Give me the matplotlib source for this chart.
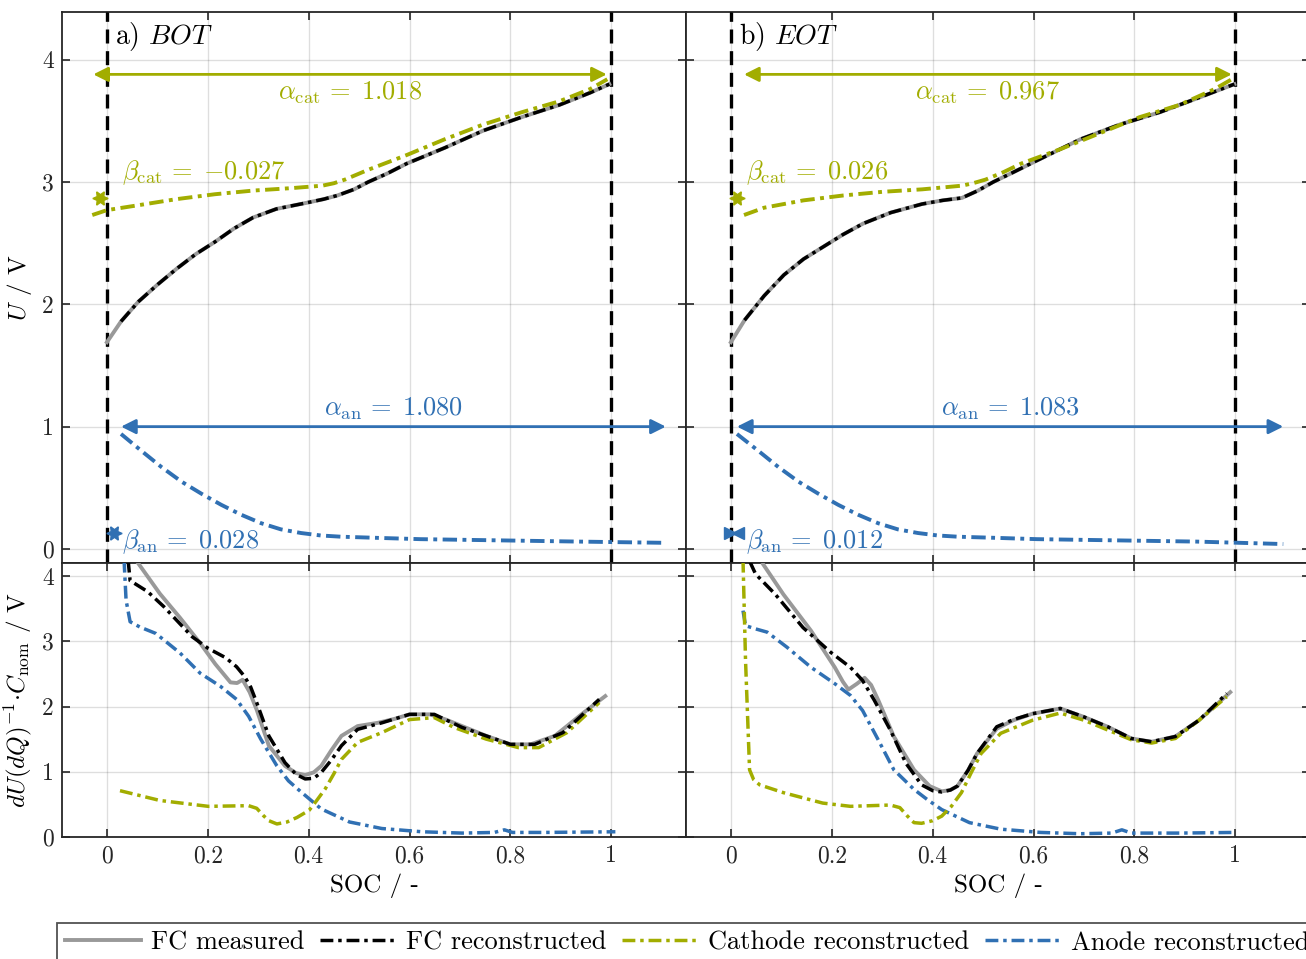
import numpy as np
import matplotlib
matplotlib.use("Agg")
import matplotlib.pyplot as plt
from matplotlib.lines import Line2D

plt.rcParams['font.family'] = 'serif'
plt.rcParams['font.serif'] = ['cmr10']
plt.rcParams['mathtext.fontset'] = 'cm'
plt.rcParams['axes.unicode_minus'] = False
plt.rcParams['axes.formatter.use_mathtext'] = True

# ---------------- data ----------------
panel_tags = ['a) $BOT$', 'b) $EOT$']
alpha_cat = [1.018, 0.967]
beta_cat = [-0.027, 0.026]
alpha_an = [1.080, 1.083]
beta_an = [0.028, 0.012]
xticks = [0, 0.2, 0.4, 0.6, 0.8, 1.0]
xticklabels = ['0', '0.2', '0.4', '0.6', '0.8', '1']
legend_labels = ['FC measured', 'FC reconstructed', 'Cathode reconstructed', 'Anode reconstructed']

# ---- BOT voltage ----
bot_fc_meas_x = [0.0, 0.028, 0.062, 0.10, 0.138, 0.176, 0.214, 0.252, 0.29, 0.336, 0.396, 0.43, 0.457, 0.49, 0.518, 0.556, 0.594, 0.67, 0.746, 0.822, 0.897, 0.958, 0.996]
bot_fc_meas_y = [1.69, 1.86, 2.02, 2.16, 2.29, 2.41, 2.51, 2.62, 2.71, 2.78, 2.83, 2.86, 2.89, 2.94, 3.00, 3.07, 3.15, 3.28, 3.42, 3.53, 3.63, 3.73, 3.80]
bot_fc_rec_x = [0.028, 0.062, 0.10, 0.138, 0.176, 0.214, 0.252, 0.29, 0.336, 0.396, 0.43, 0.457, 0.49, 0.518, 0.556, 0.594, 0.67, 0.746, 0.822, 0.897, 0.958, 0.996]
bot_fc_rec_y = [1.86, 2.02, 2.16, 2.29, 2.41, 2.51, 2.62, 2.71, 2.78, 2.83, 2.86, 2.89, 2.94, 3.00, 3.07, 3.15, 3.28, 3.42, 3.53, 3.63, 3.73, 3.80]
bot_cat_x = [-0.029, 0.0, 0.062, 0.138, 0.214, 0.29, 0.366, 0.427, 0.45, 0.472, 0.495, 0.518, 0.556, 0.594, 0.67, 0.746, 0.822, 0.897, 0.958, 0.992]
bot_cat_y = [2.73, 2.77, 2.81, 2.86, 2.90, 2.93, 2.95, 2.97, 2.99, 3.02, 3.06, 3.10, 3.16, 3.22, 3.35, 3.47, 3.57, 3.66, 3.76, 3.84]
bot_an_x = [0.028, 0.069, 0.108, 0.148, 0.188, 0.227, 0.266, 0.306, 0.345, 0.385, 0.424, 0.464, 0.54, 0.621, 0.779, 0.937, 1.106]
bot_an_y = [0.94, 0.80, 0.67, 0.55, 0.45, 0.36, 0.28, 0.21, 0.16, 0.13, 0.11, 0.10, 0.09, 0.08, 0.07, 0.06, 0.05]

# ---- EOT voltage ----
eot_fc_meas_x = [0.0, 0.027, 0.066, 0.105, 0.144, 0.183, 0.222, 0.262, 0.317, 0.379, 0.42, 0.458, 0.49, 0.52, 0.56, 0.599, 0.693, 0.771, 0.85, 0.928, 0.998]
eot_fc_meas_y = [1.69, 1.87, 2.07, 2.24, 2.37, 2.47, 2.57, 2.66, 2.75, 2.82, 2.85, 2.87, 2.93, 3.00, 3.08, 3.16, 3.35, 3.47, 3.57, 3.69, 3.80]
eot_fc_rec_x = [0.027, 0.066, 0.105, 0.144, 0.183, 0.222, 0.262, 0.317, 0.379, 0.42, 0.458, 0.49, 0.52, 0.56, 0.599, 0.693, 0.771, 0.85, 0.928, 0.998]
eot_fc_rec_y = [1.87, 2.07, 2.24, 2.37, 2.47, 2.57, 2.66, 2.75, 2.82, 2.85, 2.87, 2.93, 3.00, 3.08, 3.16, 3.35, 3.47, 3.57, 3.69, 3.80]
eot_cat_x = [0.026, 0.066, 0.144, 0.223, 0.301, 0.379, 0.458, 0.48, 0.505, 0.54, 0.575, 0.654, 0.732, 0.81, 0.889, 0.959, 0.993]
eot_cat_y = [2.73, 2.79, 2.85, 2.89, 2.92, 2.94, 2.97, 2.99, 3.02, 3.08, 3.15, 3.27, 3.40, 3.53, 3.63, 3.76, 3.84]
eot_an_x = [0.012, 0.055, 0.094, 0.134, 0.174, 0.213, 0.252, 0.292, 0.331, 0.371, 0.41, 0.45, 0.53, 0.607, 0.765, 0.923, 1.095]
eot_an_y = [0.94, 0.80, 0.67, 0.55, 0.45, 0.36, 0.28, 0.21, 0.16, 0.13, 0.11, 0.10, 0.09, 0.08, 0.07, 0.06, 0.04]

# ---- BOT dU/dQ ----
bot_d_meas_x = [0.058, 0.105, 0.145, 0.185, 0.215, 0.245, 0.258, 0.269, 0.283, 0.297, 0.321, 0.353, 0.375, 0.393, 0.41, 0.425, 0.445, 0.465, 0.497, 0.537, 0.57, 0.60, 0.64, 0.672, 0.704, 0.752, 0.80, 0.84, 0.888, 0.944, 0.988]
bot_d_meas_y = [4.24, 3.73, 3.36, 2.97, 2.65, 2.37, 2.36, 2.41, 2.22, 1.95, 1.40, 1.09, 0.98, 0.95, 0.99, 1.09, 1.33, 1.55, 1.70, 1.75, 1.81, 1.88, 1.88, 1.80, 1.70, 1.55, 1.42, 1.42, 1.55, 1.90, 2.16]
bot_d_rec_x = [0.042, 0.046, 0.081, 0.113, 0.169, 0.201, 0.235, 0.257, 0.273, 0.285, 0.297, 0.321, 0.353, 0.375, 0.393, 0.41, 0.425, 0.445, 0.465, 0.497, 0.545, 0.60, 0.649, 0.704, 0.752, 0.80, 0.848, 0.904, 0.976]
bot_d_rec_y = [4.25, 3.93, 3.76, 3.53, 3.07, 2.89, 2.75, 2.61, 2.46, 2.30, 2.06, 1.55, 1.14, 0.96, 0.89, 0.90, 0.99, 1.18, 1.40, 1.65, 1.75, 1.88, 1.88, 1.68, 1.55, 1.42, 1.42, 1.60, 2.11]
bot_d_cat_x = [0.026, 0.105, 0.201, 0.281, 0.297, 0.310, 0.321, 0.337, 0.357, 0.377, 0.401, 0.415, 0.433, 0.45, 0.465, 0.497, 0.545, 0.60, 0.649, 0.688, 0.752, 0.816, 0.856, 0.912, 0.976]
bot_d_cat_y = [0.71, 0.56, 0.47, 0.48, 0.44, 0.33, 0.25, 0.20, 0.23, 0.30, 0.41, 0.55, 0.74, 0.97, 1.19, 1.45, 1.60, 1.80, 1.83, 1.68, 1.50, 1.37, 1.37, 1.60, 2.06]
bot_d_an_x = [0.034, 0.038, 0.046, 0.065, 0.097, 0.145, 0.185, 0.225, 0.257, 0.281, 0.305, 0.337, 0.36, 0.385, 0.425, 0.481, 0.545, 0.625, 0.704, 0.768, 0.788, 0.804, 0.864, 1.008]
bot_d_an_y = [4.25, 3.63, 3.30, 3.22, 3.12, 2.82, 2.51, 2.31, 2.11, 1.85, 1.50, 1.09, 0.86, 0.69, 0.43, 0.23, 0.13, 0.08, 0.06, 0.07, 0.11, 0.07, 0.07, 0.08]

# ---- EOT dU/dQ ----
eot_d_meas_x = [0.064, 0.104, 0.159, 0.206, 0.222, 0.233, 0.25, 0.265, 0.278, 0.292, 0.323, 0.363, 0.394, 0.418, 0.435, 0.449, 0.47, 0.488, 0.527, 0.56, 0.598, 0.653, 0.70, 0.747, 0.794, 0.834, 0.881, 0.928, 0.99]
eot_d_meas_y = [4.18, 3.72, 3.16, 2.60, 2.38, 2.26, 2.35, 2.44, 2.33, 2.10, 1.54, 1.03, 0.78, 0.70, 0.72, 0.78, 1.02, 1.28, 1.66, 1.79, 1.89, 1.97, 1.84, 1.69, 1.51, 1.46, 1.54, 1.79, 2.22]
eot_d_rec_x = [0.037, 0.049, 0.088, 0.143, 0.198, 0.237, 0.261, 0.284, 0.316, 0.347, 0.378, 0.40, 0.418, 0.435, 0.449, 0.47, 0.488, 0.527, 0.56, 0.598, 0.653, 0.70, 0.747, 0.794, 0.834, 0.881, 0.928, 0.983]
eot_d_rec_y = [4.23, 4.03, 3.72, 3.21, 2.83, 2.60, 2.40, 2.10, 1.64, 1.13, 0.80, 0.71, 0.69, 0.72, 0.78, 1.02, 1.28, 1.69, 1.80, 1.89, 1.97, 1.84, 1.69, 1.51, 1.46, 1.54, 1.79, 2.20]
eot_d_cat_x = [0.024, 0.029, 0.037, 0.045, 0.057, 0.104, 0.182, 0.237, 0.316, 0.335, 0.35, 0.363, 0.378, 0.40, 0.418, 0.437, 0.457, 0.476, 0.496, 0.535, 0.598, 0.653, 0.70, 0.747, 0.794, 0.834, 0.881, 0.928, 0.983]
eot_d_cat_y = [4.25, 2.71, 1.03, 0.88, 0.80, 0.68, 0.52, 0.47, 0.49, 0.45, 0.32, 0.22, 0.21, 0.25, 0.32, 0.47, 0.68, 0.98, 1.28, 1.59, 1.79, 1.90, 1.79, 1.64, 1.49, 1.44, 1.51, 1.79, 2.15]
eot_d_an_x = [0.024, 0.029, 0.049, 0.072, 0.111, 0.159, 0.206, 0.237, 0.261, 0.292, 0.323, 0.363, 0.39, 0.418, 0.473, 0.535, 0.614, 0.692, 0.755, 0.775, 0.794, 0.889, 0.998]
eot_d_an_y = [3.47, 3.24, 3.19, 3.14, 2.91, 2.60, 2.35, 2.17, 1.94, 1.49, 1.03, 0.73, 0.57, 0.42, 0.22, 0.12, 0.07, 0.05, 0.06, 0.11, 0.06, 0.06, 0.07]

# ---------------- style ----------------
C_MEAS = '#999999'
C_REC = '#000000'
C_CAT = '#A2AD00'
C_AN = '#3070B3'
DD = (3.7, 1.4, 1.0, 1.4)
LW = 2.5

W, H = 1306, 959
fig = plt.figure(figsize=(W / 100, H / 100), dpi=100)

def fx(px):
    return px / W

def fy(py):
    return 1 - py / H

axw = 624 / W
pos = {
    'TL': [fx(62), fy(563), axw, (563 - 12) / H],
    'BL': [fx(62), fy(837), axw, (837 - 563) / H],
    'TR': [fx(686), fy(563), axw, (563 - 12) / H],
    'BR': [fx(686), fy(837), axw, (837 - 563) / H],
}
axes = {k: fig.add_axes(v) for k, v in pos.items()}

XLIM = (-0.089, 1.148)

def style(ax, ylim, yticks, show_ylabels, show_xlabels):
    ax.set_xlim(*XLIM)
    ax.set_ylim(*ylim)
    ax.set_xticks(xticks)
    ax.set_yticks(yticks)
    if show_xlabels:
        ax.set_xticklabels(xticklabels)
    else:
        ax.set_xticklabels([])
    if show_ylabels:
        ax.set_yticklabels([str(t) for t in yticks])
    else:
        ax.set_yticklabels([])
    ax.tick_params(direction='in', top=True, right=True, length=6, width=1.2,
                   labelsize=17, colors='#262626', pad=6)
    ax.grid(True, color='#000000', alpha=0.13, lw=1.0)
    ax.set_axisbelow(True)
    for s in ax.spines.values():
        s.set_linewidth(1.3)
        s.set_color('#262626')

def fmt(v):
    return ('{-}%.3f' % abs(v)) if v < 0 else ('%.3f' % v)

top_sets = [
    (axes['TL'], bot_fc_meas_x, bot_fc_meas_y, bot_fc_rec_x, bot_fc_rec_y, bot_cat_x, bot_cat_y, bot_an_x, bot_an_y),
    (axes['TR'], eot_fc_meas_x, eot_fc_meas_y, eot_fc_rec_x, eot_fc_rec_y, eot_cat_x, eot_cat_y, eot_an_x, eot_an_y),
]
bot_sets = [
    (axes['BL'], bot_d_meas_x, bot_d_meas_y, bot_d_rec_x, bot_d_rec_y, bot_d_cat_x, bot_d_cat_y, bot_d_an_x, bot_d_an_y),
    (axes['BR'], eot_d_meas_x, eot_d_meas_y, eot_d_rec_x, eot_d_rec_y, eot_d_cat_x, eot_d_cat_y, eot_d_an_x, eot_d_an_y),
]

EQ = r'\,=\;'
for i, (ax, mx, my, rx, ry, cx, cy, ax_, ay) in enumerate(top_sets):
    style(ax, (-0.115, 4.39), [0, 1, 2, 3, 4], i == 0, False)
    for xv in (0, 1):
        ax.axvline(xv, color='k', lw=2.4, ls=(0, (4.2, 2.3)), zorder=3)
    ax.plot(mx, my, color=C_MEAS, lw=2.8, zorder=4)
    ax.plot(rx, ry, color=C_REC, lw=LW, ls=(0, DD), zorder=5)
    ax.plot(cx, cy, color=C_CAT, lw=LW + 0.3, ls=(0, DD), zorder=5)
    ax.plot(ax_, ay, color=C_AN, lw=LW + 0.3, ls=(0, DD), zorder=5)

    bc, ac, ba, aa = beta_cat[i], alpha_cat[i], beta_an[i], alpha_an[i]
    ax.annotate('', xy=(bc, 3.88), xytext=(bc + ac, 3.88),
                arrowprops=dict(arrowstyle='<|-|>', color=C_CAT, lw=2.0,
                                mutation_scale=22, shrinkA=0, shrinkB=0), zorder=6)
    ax.annotate('', xy=(ba, 1.0), xytext=(ba + aa, 1.0),
                arrowprops=dict(arrowstyle='<|-|>', color=C_AN, lw=2.0,
                                mutation_scale=22, shrinkA=0, shrinkB=0), zorder=6)
    # beta markers (short double arrows from 0 to beta)
    for beta, yv, col in ((bc, 2.87, C_CAT), (ba, 0.13, C_AN)):
        if beta > 0.02 or beta < 0:
            ax.plot([beta / 2], [yv], marker=(6, 1, 30), ms=11, color=col, mec=col,
                    ls='none', zorder=7)
        else:
            ax.plot([beta / 2 - 0.008], [yv], marker='>', ms=9, color=col, mec=col, ls='none', zorder=7)
            ax.plot([beta / 2 + 0.008], [yv], marker='<', ms=9, color=col, mec=col, ls='none', zorder=7)

    ax.text(0.017, 4.19, panel_tags[i], fontsize=20, va='center', ha='left', color='k')
    ax.text(bc + ac / 2, 3.73, r'$\alpha_{\rm cat}%s%s$' % (EQ, fmt(ac)), fontsize=19,
            color=C_CAT, ha='center', va='center')
    ax.text(0.03, 3.08, r'$\beta_{\rm cat}%s%s$' % (EQ, fmt(bc)), fontsize=19,
            color=C_CAT, ha='left', va='center')
    ax.text(ba + aa / 2, 1.15, r'$\alpha_{\rm an}%s%s$' % (EQ, fmt(aa)), fontsize=19,
            color=C_AN, ha='center', va='center')
    ax.text(0.03, 0.06, r'$\beta_{\rm an}%s%s$' % (EQ, fmt(ba)), fontsize=19,
            color=C_AN, ha='left', va='center')

for i, (ax, mx, my, rx, ry, cx, cy, ax_, ay) in enumerate(bot_sets):
    style(ax, (0, 4.2), [0, 1, 2, 3, 4], i == 0, True)
    ax.plot(mx, my, color=C_MEAS, lw=2.8, zorder=4)
    ax.plot(ax_, ay, color=C_AN, lw=LW, ls=(0, DD), zorder=5)
    ax.plot(cx, cy, color=C_CAT, lw=LW, ls=(0, DD), zorder=5)
    ax.plot(rx, ry, color=C_REC, lw=LW, ls=(0, DD), zorder=6)
    ax.set_xlabel('SOC / -', fontsize=18)
    ax.xaxis.set_label_coords(0.5, -0.135)

axes['TL'].set_ylabel(r'$U$ / V', fontsize=18)
axes['TL'].yaxis.set_label_coords(-0.045, 0.5)
axes['BL'].set_ylabel(r'$dU(dQ)^{-1}{\cdot}C_{\rm nom}$ / V', fontsize=18)
axes['BL'].yaxis.set_label_coords(-0.045, 0.5)

handles = [
    Line2D([], [], color=C_MEAS, lw=2.8),
    Line2D([], [], color=C_REC, lw=LW, ls=(0, DD)),
    Line2D([], [], color=C_CAT, lw=LW, ls=(0, DD)),
    Line2D([], [], color=C_AN, lw=LW, ls=(0, DD)),
]
leg = fig.legend(handles, legend_labels, loc='upper left', bbox_to_anchor=(fx(57), fy(923)),
                 ncol=4, frameon=True, fancybox=False, edgecolor='#262626', fontsize=19,
                 handlelength=2.9, handletextpad=0.35, columnspacing=0.6,
                 borderpad=0.3, borderaxespad=0)
leg.get_frame().set_linewidth(1.3)

fig.savefig('out.png', dpi=100)
